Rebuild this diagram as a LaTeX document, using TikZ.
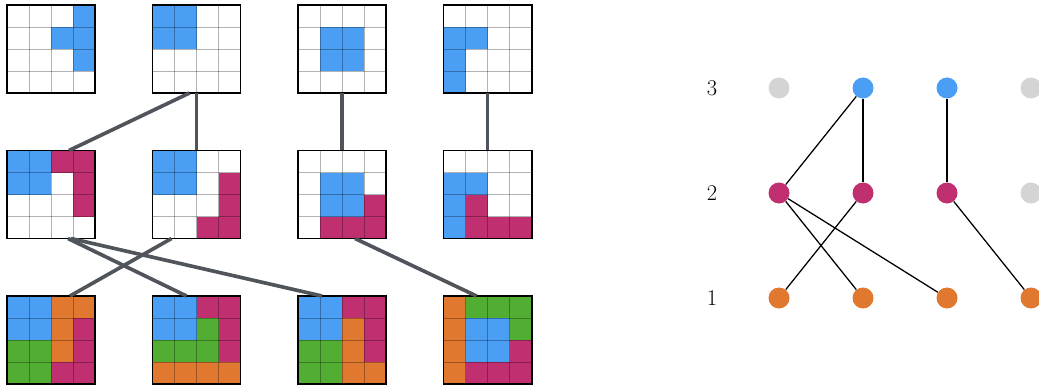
\documentclass[tikz,border=0pt]{standalone}
\usetikzlibrary{calc}
\definecolor{pw}{RGB}{255,255,255}
\definecolor{pb}{RGB}{74,159,245}
\definecolor{pm}{RGB}{192,48,112}
\definecolor{po}{RGB}{224,120,48}
\definecolor{pg}{RGB}{82,174,50}
\definecolor{pn}{RGB}{212,212,212}
\definecolor{link}{RGB}{80,85,92}
\tikzset{
  tilebox/.style={draw, line width=1.4pt, minimum size=2.2cm, inner sep=0pt, outer sep=0pt},
  cellline/.style={black, opacity=0.3, line width=0.5pt},
  tilelink/.style={link, line width=2.6pt},
  vtx/.style={circle, minimum size=0.525cm, inner sep=0pt},
  lvl/.style={font=\fontsize{16}{19}\selectfont}
}
\newcommand{\tilegrid}[4]{%
  \begin{scope}[shift={(#2,#3)}]
    \foreach \c [count=\i from 0] in {#4} {
      \pgfmathtruncatemacro{\cx}{mod(\i,4)}
      \pgfmathtruncatemacro{\cy}{\i/4}
      \fill[fill=\c] (\cx*22,\cy*22) rectangle ++(22,22);
    }
    \foreach \k in {1,2,3} {
      \draw[cellline] (\k*22,0) -- (\k*22,88);
      \draw[cellline] (0,\k*22) -- (88,\k*22);
    }
    \node[tilebox] (#1) at (44,44) {};
  \end{scope}}
\begin{document}
\begin{tikzpicture}[x=0.025cm, y=-0.025cm]
\useasboundingbox (0,0) rectangle (1039,387);
\tilegrid{top1}{7}{5}{pw,pw,pw,pb, pw,pw,pb,pb, pw,pw,pw,pb, pw,pw,pw,pw}
\tilegrid{top2}{152.5}{5}{pb,pb,pw,pw, pb,pb,pw,pw, pw,pw,pw,pw, pw,pw,pw,pw}
\tilegrid{top3}{298}{5}{pw,pw,pw,pw, pw,pb,pb,pw, pw,pb,pb,pw, pw,pw,pw,pw}
\tilegrid{top4}{443.5}{5}{pw,pw,pw,pw, pb,pb,pw,pw, pb,pw,pw,pw, pb,pw,pw,pw}
\tilegrid{mid1}{7}{150.5}{pb,pb,pm,pm, pb,pb,pw,pm, pw,pw,pw,pm, pw,pw,pw,pw}
\tilegrid{mid2}{152.5}{150.5}{pb,pb,pw,pw, pb,pb,pw,pm, pw,pw,pw,pm, pw,pw,pm,pm}
\tilegrid{mid3}{298}{150.5}{pw,pw,pw,pw, pw,pb,pb,pw, pw,pb,pb,pm, pw,pm,pm,pm}
\tilegrid{mid4}{443.5}{150.5}{pw,pw,pw,pw, pb,pb,pw,pw, pb,pm,pw,pw, pb,pm,pm,pm}
\tilegrid{bot1}{7}{296}{pb,pb,po,po, pb,pb,po,pm, pg,pg,po,pm, pg,pg,pm,pm}
\tilegrid{bot2}{152.5}{296}{pb,pb,pm,pm, pb,pb,pg,pm, pg,pg,pg,pm, po,po,po,po}
\tilegrid{bot3}{298}{296}{pb,pb,pm,pm, pb,pb,po,pm, pg,pg,po,pm, pg,pg,po,po}
\tilegrid{bot4}{443.5}{296}{po,pg,pg,pg, po,pb,pb,pg, po,pb,pb,pm, po,pm,pm,pm}
\draw[tilelink] ($(top2.south)+(-7,0)$) -- ($(mid1.north)+(18,0)$);
\draw[tilelink] (top2.south) -- (mid2.north);
\draw[tilelink] (top3.south) -- (mid3.north);
\draw[tilelink] (top4.south) -- (mid4.north);
\draw[tilelink] ($(mid1.south)+(17,0)$) -- ($(bot2.north)+(-10,0)$);
\draw[tilelink] ($(mid1.south)+(20,0)$) -- ($(bot3.north)+(-20,0)$);
\draw[tilelink] ($(mid2.south)+(-25,0)$) -- ($(bot1.north)+(19,0)$);
\draw[tilelink] ($(mid3.south)+(13,0)$) -- ($(bot4.north)+(-11,0)$);
\node[lvl] (l3) at (712,88) {3};
\node[lvl] (l2) at (712,193) {2};
\node[lvl] (l1) at (712,298) {1};
\node[vtx, fill=pn] (v31) at (779,88) {};
\node[vtx, fill=pb] (v32) at (863,88) {};
\node[vtx, fill=pb] (v33) at (947,88) {};
\node[vtx, fill=pn] (v34) at (1031,88) {};
\node[vtx, fill=pm] (v21) at (779,193) {};
\node[vtx, fill=pm] (v22) at (863,193) {};
\node[vtx, fill=pm] (v23) at (947,193) {};
\node[vtx, fill=pn] (v24) at (1031,193) {};
\node[vtx, fill=po] (v11) at (779,298) {};
\node[vtx, fill=po] (v12) at (863,298) {};
\node[vtx, fill=po] (v13) at (947,298) {};
\node[vtx, fill=po] (v14) at (1031,298) {};
\draw[line width=0.9pt] (v32) -- (v21);
\draw[line width=0.9pt] (v32) -- (v22);
\draw[line width=0.9pt] (v33) -- (v23);
\draw[line width=0.9pt] (v21) -- (v12);
\draw[line width=0.9pt] (v21) -- (v13);
\draw[line width=0.9pt] (v22) -- (v11);
\draw[line width=0.9pt] (v23) -- (v14);
\end{tikzpicture}
\end{document}
